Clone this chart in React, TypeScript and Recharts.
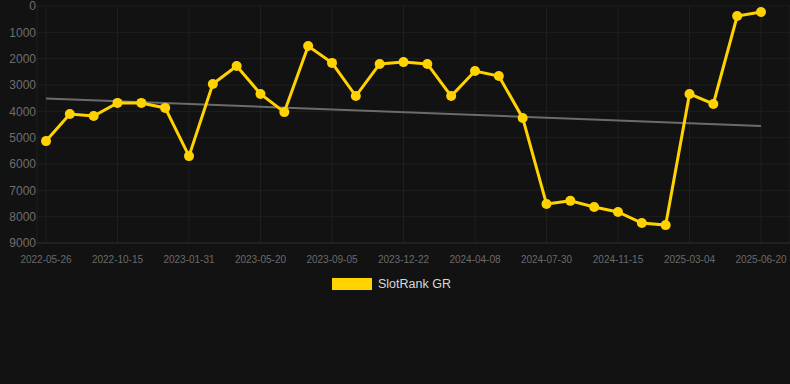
import React from 'react';
import { LineChart, Line, XAxis, YAxis, CartesianGrid } from 'recharts';

const dates = [
  '2022-05-26', '2022-07-13', '2022-08-29', '2022-10-15', '2022-11-20', '2022-12-26',
  '2023-01-31', '2023-03-08', '2023-04-14', '2023-05-20', '2023-06-25', '2023-07-31',
  '2023-09-05', '2023-10-11', '2023-11-16', '2023-12-22', '2024-01-27', '2024-03-03',
  '2024-04-08', '2024-05-16', '2024-06-22', '2024-07-30', '2024-09-04', '2024-10-10',
  '2024-11-15', '2024-12-21', '2025-01-26', '2025-03-04', '2025-04-09', '2025-05-15',
  '2025-06-20',
];

const ranks = [
  5130, 4100, 4180, 3680, 3680, 3870,
  5700, 2960, 2280, 3340, 4030, 1520,
  2160, 3420, 2200, 2130, 2200, 3420,
  2470, 2660, 4250, 7520, 7400, 7630,
  7820, 8240, 8320, 3340, 3720, 380,
  230,
];

// trend line end points
const trendStart = 3510;
const trendEnd = 4560;

const yTicks = [0, 1000, 2000, 3000, 4000, 5000, 6000, 7000, 8000, 9000];

const data = dates.map((d, i) => ({
  date: d,
  rank: ranks[i],
  trend: i === 0 ? trendStart : i === dates.length - 1 ? trendEnd : null,
}));

const FONT = '"Liberation Sans", Arial, sans-serif';

export default function App() {
  return (
    <div style={{ position: 'absolute', left: 0, top: 0, width: 790, height: 384, background: '#121212' }}>
      <LineChart width={790} height={384} data={data} margin={{ top: 6, right: 0, bottom: 111, left: 0 }}>
        <CartesianGrid stroke="#1f1f1f" strokeWidth={1} />
        <XAxis
          dataKey="date"
          interval={2}
          height={30}
          padding={{ left: 9, right: 29 }}
          tickLine={false}
          tickSize={6}
          tickMargin={7}
          axisLine={{ stroke: '#2a2a2a' }}
          tick={{ fill: '#6a6a6a', fontSize: 10, fontFamily: FONT }}
        />
        <YAxis
          reversed
          domain={[0, 9000]}
          ticks={yTicks}
          interval={0}
          width={37}
          tickLine={false}
          axisLine={false}
          tickSize={0}
          tickMargin={1}
          tick={{ fill: '#6e6e6e', fontSize: 12, fontFamily: FONT }}
        />
        <Line
          dataKey="trend"
          stroke="#6b6b6b"
          strokeWidth={2}
          dot={false}
          connectNulls
          isAnimationActive={false}
        />
        <Line
          dataKey="rank"
          stroke="#FFD200"
          strokeWidth={3}
          dot={{ r: 5, fill: '#FFD200', stroke: '#FFD200', strokeWidth: 0 }}
          activeDot={false}
          isAnimationActive={false}
        />
      </LineChart>
      <div style={{ position: 'absolute', left: 332, top: 278, display: 'flex', alignItems: 'center', fontFamily: FONT }}>
        <div style={{ width: 40, height: 12, background: '#FFD200' }} />
        <span style={{ marginLeft: 6, fontSize: 12.5, lineHeight: '12px', color: '#d8d8d8' }}>SlotRank GR</span>
      </div>
    </div>
  );
}
